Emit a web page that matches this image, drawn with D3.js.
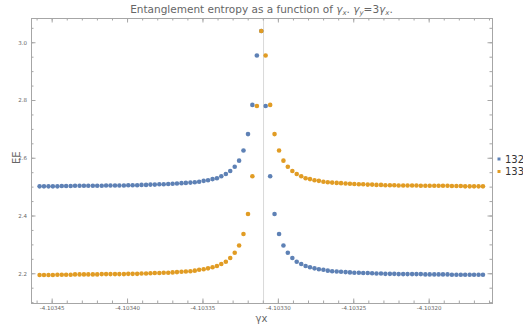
<!DOCTYPE html>
<html>
<head>
<meta charset="utf-8">
<script src="https://cdn.jsdelivr.net/npm/d3@7"></script>
<style>
  body { margin: 0; background: #fff; }
  svg { display: block; font-family: 'DejaVu Sans', sans-serif; }
</style>
</head>
<body>
<div id="chart"></div>
<script>
// gamma_x values (same grid for both series)
const gammaX = [
  -4.1034580, -4.1034551, -4.1034521, -4.1034492, -4.1034462, -4.1034433, -4.1034404, -4.1034374, -4.1034345, -4.1034315,
  -4.1034286, -4.1034257, -4.1034227, -4.1034198, -4.1034168, -4.1034139, -4.1034110, -4.1034080, -4.1034051, -4.1034021,
  -4.1033992, -4.1033963, -4.1033933, -4.1033904, -4.1033874, -4.1033845, -4.1033816, -4.1033786, -4.1033757, -4.1033727,
  -4.1033698, -4.1033669, -4.1033639, -4.1033610, -4.1033580, -4.1033551, -4.1033522, -4.1033492, -4.1033463, -4.1033433,
  -4.1033404, -4.1033375, -4.1033345, -4.1033316, -4.1033286, -4.1033257, -4.1033228, -4.1033198, -4.1033169, -4.1033139,
  -4.1033110,
  -4.1033081, -4.1033051, -4.1033022, -4.1032992, -4.1032963, -4.1032934, -4.1032904, -4.1032875, -4.1032845, -4.1032816,
  -4.1032787, -4.1032757, -4.1032728, -4.1032698, -4.1032669, -4.1032640, -4.1032610, -4.1032581, -4.1032551, -4.1032522,
  -4.1032493, -4.1032463, -4.1032434, -4.1032404, -4.1032375, -4.1032346, -4.1032316, -4.1032287, -4.1032257, -4.1032228,
  -4.1032199, -4.1032169, -4.1032140, -4.1032110, -4.1032081, -4.1032052, -4.1032022, -4.1031993, -4.1031963, -4.1031934,
  -4.1031905, -4.1031875, -4.1031846, -4.1031816, -4.1031787, -4.1031758, -4.1031728, -4.1031699, -4.1031669, -4.1031640
];

// EE for series 132
const ee132 = [
  2.501, 2.501, 2.501, 2.501, 2.501, 2.502, 2.502, 2.502, 2.503, 2.503,
  2.503, 2.503, 2.503, 2.503, 2.503, 2.504, 2.504, 2.504, 2.504, 2.504,
  2.505, 2.505, 2.505, 2.506, 2.506, 2.507, 2.507, 2.508, 2.508, 2.509,
  2.510, 2.511, 2.512, 2.513, 2.514, 2.515, 2.517, 2.520, 2.522, 2.526,
  2.529, 2.536, 2.544, 2.554, 2.569, 2.590, 2.625, 2.682, 2.783, 2.954,
  3.039,
  2.779, 2.536, 2.405, 2.336, 2.296, 2.271, 2.253, 2.240, 2.232, 2.225,
  2.221, 2.217, 2.214, 2.212, 2.209, 2.207, 2.206, 2.205, 2.204, 2.203,
  2.202, 2.202, 2.201, 2.201, 2.200, 2.199, 2.199, 2.198, 2.198, 2.198,
  2.197, 2.197, 2.197, 2.197, 2.197, 2.197, 2.196, 2.196, 2.196, 2.196,
  2.196, 2.196, 2.195, 2.195, 2.195, 2.195, 2.195, 2.195, 2.195, 2.195
];

// EE for series 133
const ee133 = [
  2.194, 2.194, 2.194, 2.194, 2.195, 2.195, 2.195, 2.195, 2.196, 2.196,
  2.196, 2.196, 2.196, 2.196, 2.197, 2.197, 2.197, 2.197, 2.197, 2.197,
  2.198, 2.198, 2.198, 2.199, 2.199, 2.200, 2.201, 2.201, 2.202, 2.202,
  2.203, 2.204, 2.205, 2.206, 2.207, 2.209, 2.212, 2.214, 2.217, 2.221,
  2.225, 2.232, 2.240, 2.253, 2.271, 2.296, 2.336, 2.405, 2.536, 2.779,
  3.039,
  2.954, 2.783, 2.682, 2.625, 2.590, 2.569, 2.554, 2.544, 2.536, 2.529,
  2.526, 2.522, 2.520, 2.517, 2.515, 2.514, 2.513, 2.512, 2.511, 2.510,
  2.509, 2.508, 2.508, 2.507, 2.507, 2.506, 2.506, 2.505, 2.505, 2.505,
  2.504, 2.504, 2.504, 2.504, 2.504, 2.503, 2.503, 2.503, 2.503, 2.503,
  2.503, 2.503, 2.502, 2.502, 2.502, 2.501, 2.501, 2.501, 2.501, 2.501
];

const seriesNames = ['132', '133'];
const seriesColors = ['#5e81b5', '#e19c24'];
const xTickValues = [-4.10345, -4.10340, -4.10335, -4.10330, -4.10325, -4.10320];
const yTickValues = [2.2, 2.4, 2.6, 2.8, 3.0];
const criticalX = -4.1033095;

const width = 523;
const height = 324;
const margin = { top: 18, right: 31, bottom: 21, left: 31 };
const frameColor = '#a6a6a6';
const labelColor = '#666';

const svg = d3.select('#chart').append('svg')
    .attr('width', width)
    .attr('height', height);

const xScale = d3.scaleLinear()
    .domain([-4.1034637, -4.1031580])
    .range([margin.left, width - margin.right]);

const yScale = d3.scaleLinear()
    .domain([2.097, 3.084])
    .range([height - margin.bottom, margin.top]);

const x0 = margin.left, x1 = width - margin.right;
const y0 = margin.top, y1 = height - margin.bottom;

// Title
const title = svg.append('text')
    .attr('x', (x0 + x1) / 2)
    .attr('y', 13)
    .attr('text-anchor', 'middle')
    .style('font-size', '10.5px')
    .style('fill', labelColor);
title.append('tspan').text('Entanglement entropy as a function of ');
title.append('tspan').style('font-style', 'italic').text('γ');
title.append('tspan').style('font-style', 'italic').style('font-size', '7px').attr('dy', 2).text('x');
title.append('tspan').attr('dy', -2).text('. ');
title.append('tspan').style('font-style', 'italic').text('γ');
title.append('tspan').style('font-style', 'italic').style('font-size', '7px').attr('dy', 2).text('y');
title.append('tspan').attr('dy', -2).text('=3');
title.append('tspan').style('font-style', 'italic').text('γ');
title.append('tspan').style('font-style', 'italic').style('font-size', '7px').attr('dy', 2).text('x');
title.append('tspan').attr('dy', -2).text('.');

// vertical grid line at the critical point
svg.append('line')
    .attr('x1', xScale(criticalX)).attr('x2', xScale(criticalX))
    .attr('y1', y0).attr('y2', y1)
    .attr('stroke', '#d9d9d9')
    .attr('stroke-width', 1);

// Points
svg.append('clipPath').attr('id', 'plotClip')
    .append('rect')
    .attr('x', x0).attr('y', y0)
    .attr('width', x1 - x0).attr('height', y1 - y0);

const series = [ee132, ee133];
const plot = svg.append('g').attr('clip-path', 'url(#plotClip)');
series.forEach((values, s) => {
    plot.append('g')
        .selectAll('circle')
        .data(values)
        .enter().append('circle')
        .attr('cx', (d, i) => xScale(gammaX[i]))
        .attr('cy', d => yScale(d))
        .attr('r', 2.3)
        .attr('fill', seriesColors[s]);
});

// Frame axes (ticks point inward)
const xMinor = d3.range(-4.10346, -4.103155, 0.00001);
const yMinor = d3.range(2.1, 3.08, 0.05);

function styleAxis(g) {
    g.select('.domain').attr('stroke', frameColor);
    g.selectAll('.tick line').attr('stroke', frameColor);
    g.selectAll('.tick text')
        .style('font-size', '5.5px')
        .style('fill', labelColor)
        .style('font-family', "'DejaVu Sans', sans-serif");
}

const fmtX = d => d.toFixed(5);
const fmtY = d => d.toFixed(1);

// bottom
svg.append('g')
    .attr('transform', `translate(0, ${y1})`)
    .call(d3.axisBottom(xScale).tickValues(xMinor).tickSize(-2.5).tickFormat(''))
    .call(styleAxis);
svg.append('g')
    .attr('transform', `translate(0, ${y1})`)
    .call(d3.axisBottom(xScale).tickValues(xTickValues).tickSize(-4.5).tickPadding(3).tickFormat(fmtX))
    .call(styleAxis);
// top
svg.append('g')
    .attr('transform', `translate(0, ${y0})`)
    .call(d3.axisTop(xScale).tickValues(xMinor).tickSize(-2.5).tickFormat(''))
    .call(styleAxis);
svg.append('g')
    .attr('transform', `translate(0, ${y0})`)
    .call(d3.axisTop(xScale).tickValues(xTickValues).tickSize(-4.5).tickFormat(''))
    .call(styleAxis);
// left
svg.append('g')
    .attr('transform', `translate(${x0}, 0)`)
    .call(d3.axisLeft(yScale).tickValues(yMinor).tickSize(-2.5).tickFormat(''))
    .call(styleAxis);
svg.append('g')
    .attr('transform', `translate(${x0}, 0)`)
    .call(d3.axisLeft(yScale).tickValues(yTickValues).tickSize(-4.5).tickPadding(4).tickFormat(fmtY))
    .call(styleAxis);
// right
svg.append('g')
    .attr('transform', `translate(${x1}, 0)`)
    .call(d3.axisRight(yScale).tickValues(yMinor).tickSize(-2.5).tickFormat(''))
    .call(styleAxis);
svg.append('g')
    .attr('transform', `translate(${x1}, 0)`)
    .call(d3.axisRight(yScale).tickValues(yTickValues).tickSize(-4.5).tickFormat(''))
    .call(styleAxis);

// Axis titles
svg.append('text')
    .attr('x', (x0 + x1) / 2)
    .attr('y', 322)
    .attr('text-anchor', 'middle')
    .style('font-size', '10px')
    .style('fill', labelColor)
    .text('γx');

svg.append('text')
    .attr('transform', `translate(20, ${yScale(2.6)}) rotate(-90)`)
    .attr('text-anchor', 'middle')
    .style('font-size', '10px')
    .style('fill', labelColor)
    .text('EE');

// Legend
const legend = svg.append('g')
    .attr('transform', `translate(499, 159)`);

seriesNames.forEach((name, i) => {
    legend.append('rect')
        .attr('x', -1.5)
        .attr('y', i * 12.5 - 1.5)
        .attr('width', 3)
        .attr('height', 3)
        .attr('fill', seriesColors[i]);
    legend.append('text')
        .attr('x', 6)
        .attr('y', i * 12.5 + 3.5)
        .style('font-size', '10px')
        .style('fill', '#333')
        .text(name);
});
</script>
</body>
</html>
